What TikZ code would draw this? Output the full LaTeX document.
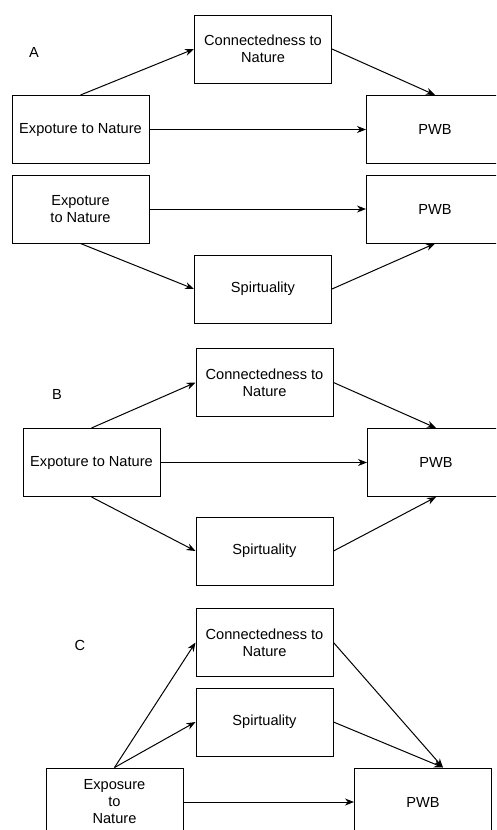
\documentclass[tikz,border=0pt]{standalone}
\usepackage{fontspec}
\setmainfont{Liberation Sans}
\usetikzlibrary{arrows.meta}

\begin{document}
\begin{tikzpicture}
  [x=1pt,y=-1pt,every node/.style={font=\fontsize{14.6}{17}\selectfont}]

	\tikzset{
	box/.style = {draw,line width=1pt,minimum width=137pt,minimum height=68pt,align=center,inner sep=2pt},
	arr/.style = {line width=1pt,-{Stealth[length=9pt,width=7pt]}}
	}

  \useasboundingbox (0,0) rectangle (496,830);
  \clip (0,0) rectangle (496,830);

  \node (lA) at (34,52)  {A};
  \node[box] (c1) at (263,49)    {Connectedness to\\Nature};
  \node[box] (e1) at (80.5,129.5) {Expoture to Nature};
  \node[box] (p1) at (435,129.5) {PWB};
  \node[box] (e2) at (80.5,209)  {Expoture\\to Nature};
  \node[box] (p2) at (435,209)   {PWB};
  \node[box] (s1) at (263,289)   {Spirtuality};

  \node (lB) at (57,394) {B};
  \node[box] (c2) at (264.5,382.5) {Connectedness to\\Nature};
  \node[box] (e3) at (91.5,462.5)  {Expoture to Nature};
  \node[box] (p3) at (436,462.5)   {PWB};
  \node[box] (s2) at (264.5,551)   {Spirtuality};

  \node (lC) at (80,645) {C};
  \node[box] (c3) at (264.5,642.5) {Connectedness to\\Nature};
  \node[box] (s3) at (264.5,722)   {Spirtuality};
  \node[box] (e4) at (114.5,802)   {Exposure\\to\\Nature};
  \node[box] (p4) at (423,802)     {PWB};
  \coordinate (p4in) at ([xshift=20pt]p4.north);

  \foreach \from/\to in {e1.north/c1.west,c1.east/p1.north,e1.east/p1.west,
                         e2.east/p2.west,e2.south/s1.west,s1.east/p2.south,
                         e3.north/c2.west,c2.east/p3.north,e3.east/p3.west,
                         e3.south/s2.west,s2.east/p3.south,
                         e4.north/c3.west,e4.north/s3.west,c3.east/p4in,
                         s3.east/p4in,e4.east/p4.west}
    \draw[arr] (\from) -- (\to);

\end{tikzpicture}
\end{document}
